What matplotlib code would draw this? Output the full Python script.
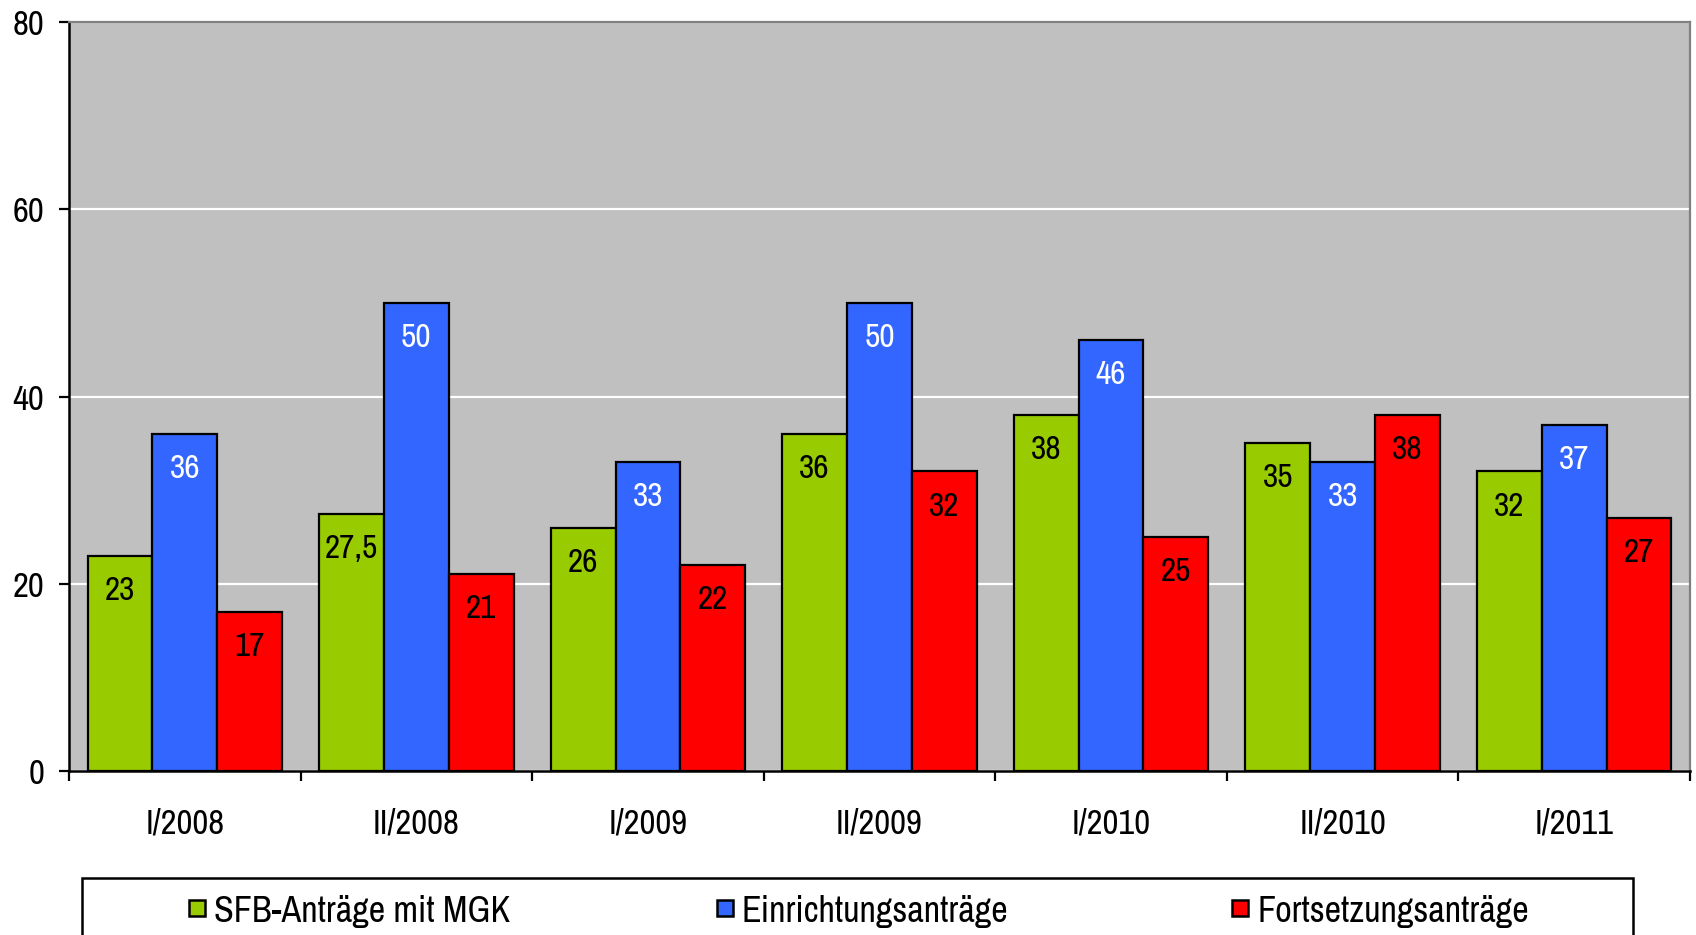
import matplotlib
matplotlib.use("Agg")
import matplotlib.pyplot as plt
import numpy as np
from matplotlib.patches import Rectangle

categories = ["I/2008", "II/2008", "I/2009", "II/2009", "I/2010", "II/2010", "I/2011"]
sfb_mgk = [23, 27.5, 26, 36, 38, 35, 32]
einrichtung = [36, 50, 33, 50, 46, 33, 37]
fortsetzung = [17, 21, 22, 32, 25, 38, 27]
series_names = ["SFB-Anträge mit MGK", "Einrichtungsanträge", "Fortsetzungsanträge"]
yticks = [0, 20, 40, 60, 80]

FONT = ["Archivo Narrow", "PT Sans Narrow", "DejaVu Sans"]
plt.rcParams["font.family"] = FONT

colors = ["#99CC00", "#3366FF", "#FF0000"]
label_colors = ["black", "white", "black"]

W, H = 1696, 935
fig = plt.figure(figsize=(W / 100, H / 100), dpi=100)
ax = fig.add_axes([69 / W, 1 - 771 / H, (1690 - 69) / W, (771 - 22) / H])
ax.set_facecolor("#C0C0C0")

x = np.arange(len(categories))
w = 0.28
data = [sfb_mgk, einrichtung, fortsetzung]
for k, (vals, c, lc) in enumerate(zip(data, colors, label_colors)):
    xs = x + (k - 1) * w
    ax.bar(xs, vals, width=w, color=c, edgecolor="black", linewidth=1.6, zorder=3)
    for xi, v in zip(xs, vals):
        txt = f"{v:g}".replace(".", ",")
        ax.text(xi, v - 3.75, txt, ha="center", va="center", fontsize=24,
                color=lc, zorder=4)

ax.set_xlim(-0.5, len(categories) - 0.5)
ax.set_ylim(0, 80)
ax.set_yticks(yticks)
ax.set_yticklabels([str(t) for t in yticks], fontsize=25)
ax.yaxis.grid(True, color="white", linewidth=1.6, zorder=1)
ax.set_axisbelow(True)

ax.set_xticks(np.arange(-0.5, len(categories)), minor=False)
ax.set_xticklabels([""] * (len(categories) + 1))
ax.set_xticks(x, minor=True)
ax.set_xticklabels(categories, minor=True, fontsize=25)
ax.tick_params(axis="x", which="major", length=7, width=1.6, direction="out")
ax.tick_params(axis="x", which="minor", length=0, pad=26)
ax.tick_params(axis="y", length=7, width=1.6, pad=11)

for s in ["left", "bottom"]:
    ax.spines[s].set_color("black")
    ax.spines[s].set_linewidth(1.8)
for s in ["top", "right"]:
    ax.spines[s].set_color("#808080")
    ax.spines[s].set_linewidth(1.6)

# legend box (cut off at the bottom, as in the reference)
fig.add_artist(Rectangle((82 / W, -0.02), (1633 - 82) / W, 0.02 + 1 - 878 / H,
                         transform=fig.transFigure, facecolor="white",
                         edgecolor="black", linewidth=1.8, clip_on=False))
marker_x = [189, 717, 1232]
ymid = 1 - 908 / H
for mx, c, name in zip(marker_x, colors, series_names):
    fig.add_artist(Rectangle((mx / W, ymid - 8 / H), 16 / W, 16 / H,
                             transform=fig.transFigure, facecolor=c,
                             edgecolor="black", linewidth=1.8))
    fig.text((mx + 25) / W, ymid, name, ha="left", va="center_baseline",
             fontsize=26)

fig.savefig("out.png", dpi=100)
